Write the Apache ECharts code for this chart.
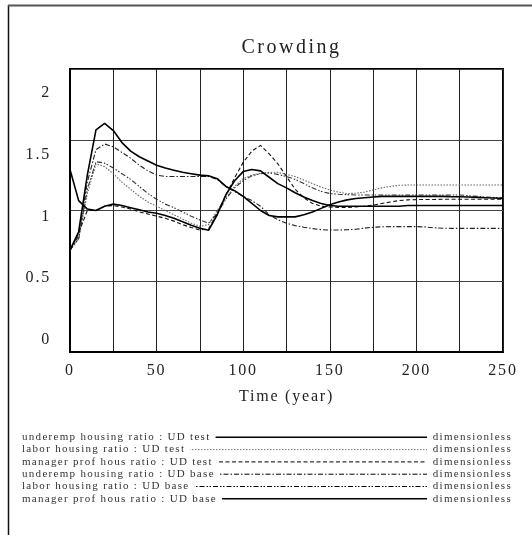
<!DOCTYPE html>
<html><head><meta charset="utf-8">
<script src="https://cdn.jsdelivr.net/npm/echarts@6/dist/echarts.min.js"></script>
<style>html,body{margin:0;padding:0;background:#fff}#c{width:532px;height:535px}</style>
</head><body><div id="c"></div>
<script>
// letter spacing similar to the original export (applied to canvas text drawing and measuring)
(function(){
  var P = CanvasRenderingContext2D.prototype;
  if (!('letterSpacing' in P)) return;
  function sp(font){ var m=/(\d+(?:\.\d+)?)px/.exec(font||''); var s=m?parseFloat(m[1]):12; return s>=19?'2.5px':s>=15?'1.8px':s>=10?'1.3px':'0px'; }
  var f=P.fillText, ms=P.measureText;
  P.fillText=function(t,x,y,w){ this.letterSpacing=sp(this.font); return w===undefined?f.call(this,t,x,y):f.call(this,t,x,y,w); };
  P.measureText=function(t){ this.letterSpacing=sp(this.font); return ms.call(this,t); };
})();

const chartTitle = 'Crowding';
const xName = 'Time (year)';
const unitLabel = 'dimensionless';
const yTicks = [0, 0.5, 1, 1.5, 2];
const xLabelTicks = [0, 50, 100, 150, 200, 250];

const time = [0,5,10,15,20,25,30,35,40,45,50,55,60,65,70,75,80,85,90,95,100,105,110,115,120,125,130,135,140,145,150,155,160,165,170,175,180,185,190,195,200,205,210,215,220,225,230,235,240,245,250];

const underempTest = [0.72,0.85,1.25,1.57,1.615,1.565,1.48,1.42,1.38,1.35,1.32,1.30,1.285,1.27,1.26,1.25,1.245,1.225,1.17,1.14,1.10,1.05,1.00,0.965,0.955,0.955,0.955,0.97,0.99,1.015,1.04,1.06,1.075,1.085,1.09,1.095,1.10,1.10,1.10,1.10,1.10,1.10,1.10,1.10,1.098,1.097,1.095,1.093,1.09,1.088,1.085];
const laborTest = [0.72,0.80,1.12,1.33,1.31,1.26,1.20,1.15,1.10,1.06,1.03,1.00,0.97,0.94,0.91,0.888,0.90,1.00,1.09,1.17,1.225,1.25,1.263,1.27,1.27,1.255,1.24,1.215,1.19,1.165,1.145,1.13,1.12,1.122,1.13,1.145,1.16,1.17,1.178,1.18,1.18,1.18,1.18,1.18,1.18,1.18,1.18,1.18,1.18,1.18,1.18];
const managerTest = [0.72,0.84,1.00,1.00,1.03,1.035,1.025,1.01,0.99,0.975,0.96,0.945,0.925,0.90,0.88,0.862,0.87,0.98,1.11,1.23,1.34,1.42,1.46,1.40,1.33,1.24,1.15,1.09,1.05,1.03,1.025,1.022,1.022,1.025,1.03,1.038,1.05,1.06,1.07,1.075,1.077,1.078,1.078,1.079,1.079,1.08,1.08,1.08,1.08,1.08,1.08];
const underempBase = [0.72,0.82,1.20,1.43,1.47,1.45,1.41,1.37,1.32,1.28,1.25,1.24,1.24,1.24,1.24,1.24,1.24,1.22,1.17,1.135,1.10,1.07,1.03,0.97,0.935,0.91,0.893,0.882,0.872,0.865,0.862,0.862,0.864,0.867,0.875,0.882,0.885,0.886,0.886,0.886,0.886,0.884,0.878,0.875,0.874,0.874,0.874,0.874,0.874,0.874,0.874];
const laborBase = [0.72,0.80,1.15,1.345,1.335,1.30,1.26,1.22,1.17,1.12,1.08,1.045,1.02,0.99,0.96,0.933,0.91,0.98,1.08,1.16,1.21,1.245,1.26,1.265,1.255,1.24,1.22,1.19,1.16,1.135,1.12,1.115,1.112,1.11,1.11,1.11,1.11,1.11,1.11,1.11,1.11,1.11,1.11,1.11,1.11,1.11,1.105,1.10,1.095,1.092,1.09];
const managerBase = [1.29,1.07,1.01,1.00,1.03,1.045,1.035,1.02,1.005,0.99,0.98,0.965,0.945,0.92,0.895,0.875,0.86,0.97,1.11,1.21,1.275,1.29,1.28,1.235,1.19,1.16,1.125,1.095,1.07,1.05,1.035,1.03,1.03,1.03,1.03,1.03,1.03,1.03,1.03,1.035,1.035,1.035,1.035,1.035,1.035,1.035,1.035,1.035,1.035,1.035,1.035];

const seriesNames = ['underemp housing ratio : UD test','labor housing ratio : UD test','manager prof hous ratio : UD test','underemp housing ratio : UD base','labor housing ratio : UD base','manager prof hous ratio : UD base'];
const seriesValues = [underempTest, laborTest, managerTest, underempBase, laborBase, managerBase];

const styles = [
  {color:'#000', width:1.6, dash:'solid', z:6},
  {color:'#666', width:1.1, dash:[1.5,1.5], z:3},
  {color:'#111', width:1.1, dash:[4,2.5], z:4},
  {color:'#222', width:1.1, dash:[5,2,1.5,2], z:3},
  {color:'#333', width:1.1, dash:[5,2,1.5,1.5,1.5,2], z:3},
  {color:'#000', width:1.6, dash:'solid', z:6}
];

const FONT = '"Liberation Serif", "Times New Roman", serif';

const series = seriesNames.map((n,i)=>({
  name:n, type:'line', xAxisIndex:0, yAxisIndex:0,
  data: time.map((t,k)=>[t, seriesValues[i][k]]),
  showSymbol:false, symbol:'none', animation:false, z:styles[i].z,
  lineStyle:{color:styles[i].color, width:styles[i].width, type:styles[i].dash}
}));

// legend rows (text, line sample, unit)
const graphics = [
  {type:'line', shape:{x1:8.5,y1:5,x2:8.5,y2:535}, style:{stroke:'#111', lineWidth:1.5}, silent:true},
  {type:'line', shape:{x1:8,y1:5.5,x2:532,y2:5.5}, style:{stroke:'#555', lineWidth:2}, silent:true}
];
const legY0 = 437.3, legStep = 12.3;
seriesNames.forEach((n,i)=>{
  const y = legY0 + i*legStep;
  const d = styles[i].dash;
  graphics.push({type:'line', z:1, shape:{x1:24,y1:y,x2:427,y2:y}, style:{stroke:styles[i].color==='#666'?'#777':'#000', lineWidth:i===0||i===5?1.4:1, lineDash: d==='solid'?null:d}, silent:true});
  graphics.push({type:'text', z:2, x:22, y:y, style:{text:n, font:'11px '+FONT, fill:'#333', backgroundColor:'#fff', padding:[1,5,1,0], verticalAlign:'middle', align:'left'}, silent:true});
  graphics.push({type:'text', z:2, x:512, y:y, style:{text:unitLabel, font:'11px '+FONT, fill:'#333', verticalAlign:'middle', align:'right'}, silent:true});
});

const chart = echarts.init(document.getElementById('c'), null, {renderer:'canvas'});
chart.setOption({
  animation:false,
  backgroundColor:'#fff',
  title:{text:chartTitle, left:286.5, top:31, textAlign:'center', textStyle:{fontFamily:FONT, fontSize:20, fontWeight:'normal', color:'#222'}},
  grid:[
    {left:70, right:29, top:69, bottom:183, show:true, borderColor:'#000', borderWidth:2, containLabel:false},
    {left:70, right:29, top:93, bottom:195, show:false}
  ],
  xAxis:[
    {type:'value', gridIndex:0, min:0, max:250, interval:25,
     axisLine:{show:true, onZero:false, lineStyle:{color:'#000', width:2}},
     axisTick:{show:false},
     splitLine:{show:true, lineStyle:{color:'#222', width:1}},
     axisLabel:{margin:10, color:'#222', fontFamily:FONT, fontSize:16, formatter:v=> xLabelTicks.indexOf(v)>=0 ? String(v) : ''},
     name:xName, nameLocation:'middle', nameGap:36, nameTextStyle:{color:'#222', fontFamily:FONT, fontSize:16}},
    {type:'value', gridIndex:1, min:0, max:250, show:false}
  ],
  yAxis:[
    {type:'value', gridIndex:0, min:0, max:2, interval:0.5,
     axisLine:{show:true, lineStyle:{color:'#000', width:2}},
     axisTick:{show:false}, axisLabel:{show:false},
     splitLine:{show:true, lineStyle:{color:'#444', width:1.2}}},
    {type:'value', gridIndex:1, min:yTicks[0], max:yTicks[yTicks.length-1], interval:0.5,
     axisLine:{show:false}, axisTick:{show:false}, splitLine:{show:false},
     axisLabel:{margin:19, color:'#222', fontFamily:FONT, fontSize:16}}
  ],
  series: series,
  graphic: graphics
});
</script></body></html>
